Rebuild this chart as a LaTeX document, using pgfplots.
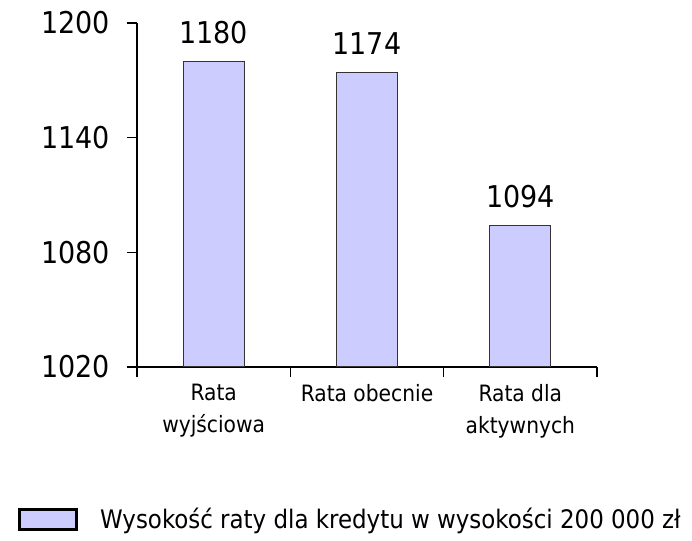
\documentclass[border=0pt]{standalone}
\usepackage{pgfplots}
\pgfplotsset{compat=1.18}
\usepackage{fontspec}
\setmainfont{DejaVu Sans Condensed}
\definecolor{barfill}{HTML}{CCCCFF}
\definecolor{baredge}{HTML}{333333}
\begin{document}
\begin{tikzpicture}
\path[use as bounding box] (0,0) rectangle (692pt,540pt);
\clip (0,0) rectangle (692pt,540pt);
\begin{axis}[
  at={(137pt,173pt)}, anchor=south west,
  scale only axis, width=460pt, height=344pt,
  xmin=-0.5, xmax=2.5, ymin=1020, ymax=1200,
  axis lines*=left,
  axis line style={line width=1.5pt, black},
  tick style={line width=1.5pt, black},
  tick align=outside,
  major tick length=10pt,
  ytick={1020,1080,1140,1200},
  xtick={-0.5,0.5,1.5,2.5},
  xticklabels={},
  extra x ticks={0,1,2},
  extra x tick labels={Rata\\wyjściowa, Rata obecnie, Rata dla\\aktywnych},
  extra x tick style={major tick length=0pt},
  /pgf/number format/assume math mode=true,
  /pgf/number format/1000 sep={},
  yticklabel style={font=\fontsize{30}{36}\selectfont, anchor=east, inner sep=0pt, xshift=-17pt},
  xticklabel style={font=\fontsize{22.5}{32}\selectfont, anchor=north, align=center, inner sep=0pt, yshift=-17pt},
  ybar, bar width=61pt,
  nodes near coords,
  every node near coord/.append style={font=\fontsize{30}{36}\selectfont, anchor=base, inner sep=0pt, yshift=18pt, black},
  legend style={at={(axis description cs:-0.2587,-0.4419)}, anchor=west, draw=none, fill=none, inner sep=0pt,
    font=\fontsize{25.5}{30}\selectfont,
    /tikz/every odd column/.append style={column sep=20pt}},
  clip=false,
]
\addplot[fill=barfill, draw=baredge, line width=1pt,
  legend image code/.code={\draw[line width=3pt, draw=black, fill=barfill] (0pt,-10pt) rectangle (57pt,10pt);}]
  coordinates {(0,1180) (1,1174) (2,1094)};
\legend{Wysokość raty dla kredytu w wysokości 200 000 zł}
\end{axis}
\end{tikzpicture}
\end{document}
